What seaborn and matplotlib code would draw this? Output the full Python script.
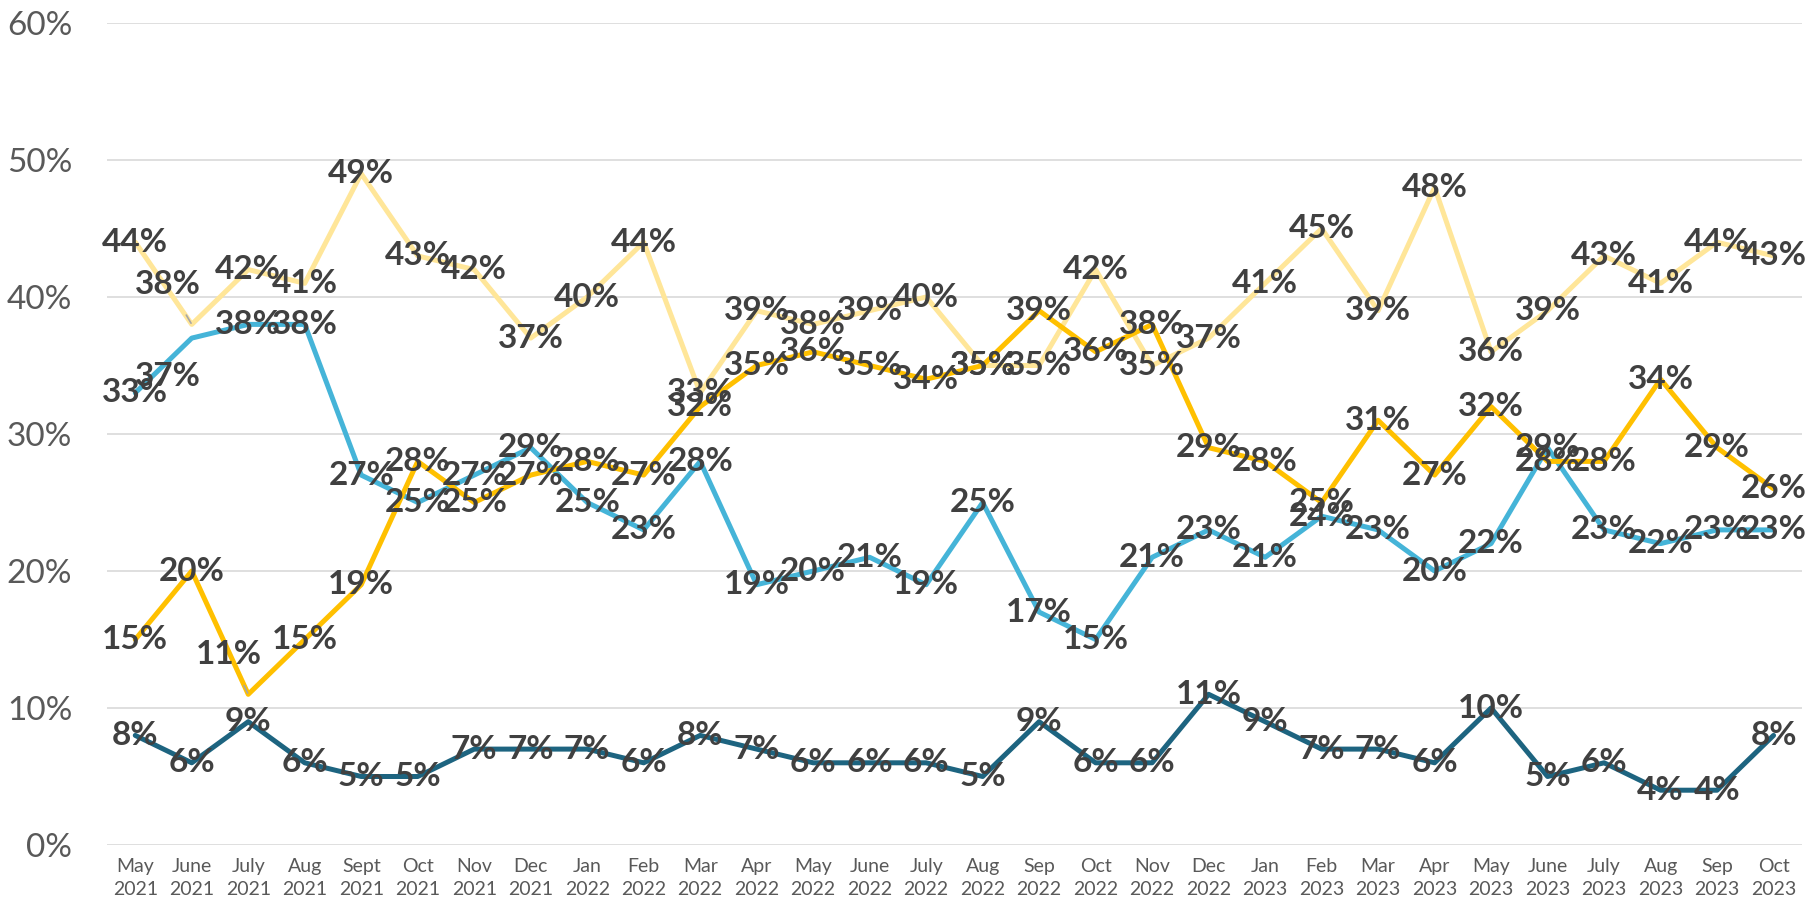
import pandas as pd
import matplotlib.pyplot as plt
import seaborn as sns

# month labels (two lines each)
months = ["May\n2021", "June\n2021", "July\n2021", "Aug\n2021", "Sept\n2021", "Oct\n2021",
          "Nov\n2021", "Dec\n2021", "Jan\n2022", "Feb\n2022", "Mar\n2022", "Apr\n2022",
          "May\n2022", "June\n2022", "July\n2022", "Aug\n2022", "Sep\n2022", "Oct\n2022",
          "Nov\n2022", "Dec\n2022", "Jan\n2023", "Feb\n2023", "Mar\n2023", "Apr\n2023",
          "May\n2023", "June\n2023", "July\n2023", "Aug\n2023", "Sep\n2023", "Oct\n2023"]

# values (percent)
pale = [44, 38, 42, 41, 49, 43, 42, 37, 40, 44, 33, 39, 38, 39, 40, 35, 35, 42,
        35, 37, 41, 45, 39, 48, 36, 39, 43, 41, 44, 43]
blue = [33, 37, 38, 38, 27, 25, 27, 29, 25, 23, 28, 19, 20, 21, 19, 25, 17, 15,
        21, 23, 21, 24, 23, 20, 22, 29, 23, 22, 23, 23]
gold = [15, 20, 11, 15, 19, 28, 25, 27, 28, 27, 32, 35, 36, 35, 34, 35, 39, 36,
        38, 29, 28, 25, 31, 27, 32, 28, 28, 34, 29, 26]
dark = [8, 6, 9, 6, 5, 5, 7, 7, 7, 6, 8, 7, 6, 6, 6, 5, 9, 6,
        6, 11, 9, 7, 7, 6, 10, 5, 6, 4, 4, 8]

series_names = ["Pale", "Blue", "Gold", "Dark"]
series_values = [pale, blue, gold, dark]
colors = {"Pale": "#FFE699", "Blue": "#45B4D8", "Gold": "#FFC000", "Dark": "#1D6480"}

rows = []
for name, vals in zip(series_names, series_values):
    for i, v in enumerate(vals):
        rows.append({"series": name, "idx": i, "value": v / 100})
df = pd.DataFrame(rows)

# labels that Excel moved off the point (series, index) -> offset in points
moved = {("Pale", 1): (-17, 29), ("Blue", 1): (-17, -28), ("Gold", 2): (-14, 29)}
leader = {("Pale", 1), ("Gold", 2)}

sns.set_style("white")
plt.rcParams['font.family'] = ['Lato', 'DejaVu Sans']

fig = plt.figure(figsize=(18.2, 9.09), dpi=100)
ax = fig.add_axes([0.0588, 0.0704, 0.9312, 0.9043])

for y in [0.1, 0.2, 0.3, 0.4, 0.5, 0.6, 0.0]:
    ax.axhline(y, color="#D9D9D9", lw=1.2, zorder=0)

sns.lineplot(data=df, x="idx", y="value", hue="series", palette=colors,
             hue_order=series_names, linewidth=3.6, legend=False, ax=ax)
for line in ax.lines:
    line.set_solid_joinstyle("round")

for name, vals in zip(series_names, series_values):
    for i, v in enumerate(vals):
        off = moved.get((name, i), (0, 0))
        if (name, i) in leader:
            ax.annotate(f"{v}%", xy=(i, v / 100), xytext=off, textcoords="offset points",
                        ha="center", va="center", fontsize=24, fontweight="bold",
                        color="#404040", zorder=5,
                        arrowprops=dict(arrowstyle="-", color="#A6A6A6", lw=1.2,
                                        shrinkA=11, shrinkB=1))
        else:
            ax.annotate(f"{v}%", xy=(i, v / 100), xytext=off, textcoords="offset points",
                        ha="center", va="center", fontsize=24, fontweight="bold",
                        color="#404040", zorder=5)

ax.set_xlim(-0.5, 29.5)
ax.set_ylim(0, 0.6)
ax.set_xticks(range(len(months)))
ax.set_xticklabels(months, fontsize=14, color="#595959", linespacing=1.45)
ax.set_yticks([0, 0.1, 0.2, 0.3, 0.4, 0.5, 0.6])
ax.set_yticklabels(["0%", "10%", "20%", "30%", "40%", "50%", "60%"], fontsize=24,
                   color="#595959")
ax.tick_params(axis="x", length=0, pad=9)
ax.tick_params(axis="y", length=0, pad=25)
ax.set_xlabel("")
ax.set_ylabel("")
sns.despine(ax=ax, left=True, bottom=True)

fig.savefig("out.png", dpi=100)
